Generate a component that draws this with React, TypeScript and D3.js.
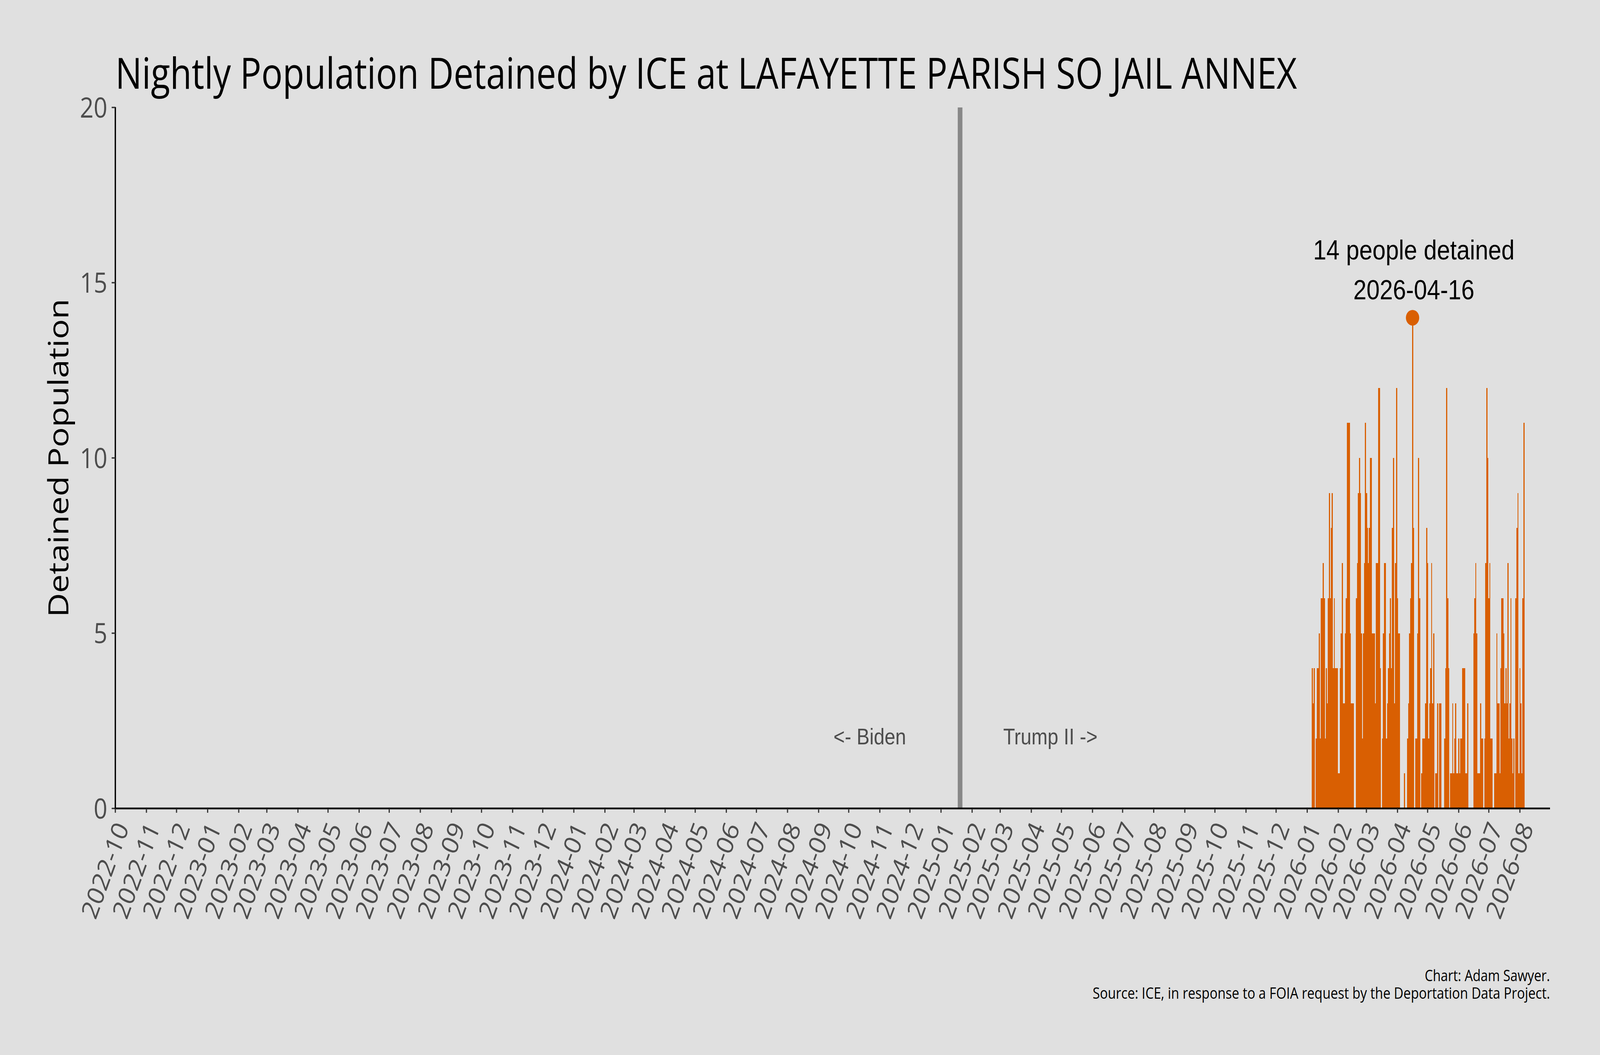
import React from "react";
import * as d3 from "d3";

// nightly counts, one value per day starting 2026-01-06
const startDate = "2026-01-06";
const detained = [
  4, 3, 4, 0, 2, 4, 4, 5, 2, 6,
  6, 7, 6, 2, 4, 3, 6, 9, 6, 8,
  9, 4, 6, 4, 4, 4, 1, 1, 4, 5,
  7, 3, 3, 5, 6, 11, 11, 11, 5, 3,
  3, 3, 0, 0, 6, 7, 9, 10, 9, 5,
  2, 5, 7, 11, 9, 8, 7, 8, 10, 10,
  5, 5, 5, 3, 7, 7, 12, 12, 4, 0,
  2, 5, 7, 7, 2, 3, 4, 5, 6, 4,
  8, 10, 3, 7, 12, 6, 5, 5, 0, 0,
  0, 0, 1, 0, 0, 2, 3, 5, 6, 7,
  14, 8, 0, 2, 2, 5, 10, 6, 0, 1,
  2, 2, 2, 3, 8, 7, 2, 3, 4, 7,
  3, 5, 0, 1, 1, 3, 0, 3, 3, 0,
  0, 0, 2, 4, 12, 6, 4, 0, 1, 1,
  3, 1, 2, 3, 1, 1, 2, 1, 2, 2,
  4, 4, 4, 1, 1, 3, 0, 0, 0, 0,
  0, 5, 6, 7, 5, 1, 1, 1, 3, 2,
  2, 0, 2, 7, 12, 10, 6, 7, 2, 2,
  0, 0, 1, 1, 5, 3, 3, 1, 4, 6,
  6, 5, 3, 4, 3, 7, 2, 3, 6, 2,
  1, 2, 0, 6, 8, 9, 1, 4, 3, 1,
  6, 11,
];

const xDomain = ["2022-10-01", "2026-08-31"];
const lastTick = "2026-08-01";
const yTicks = [0, 5, 10, 15, 20];
const inauguration = "2025-01-20";
const eraLabels = ["<- Biden", "Trump II ->"];
const peakDate = "2026-04-16";
const peakValue = 14;
const footer = [
  "Chart: Adam Sawyer.",
  "Source: ICE, in response to a FOIA request by the Deportation Data Project.",
];

const W = 4800;
const H = 2700;
const orange = "#d95f02";
const sans = "'Open Sans', 'Noto Sans', sans-serif";
const arial = "'Liberation Sans', Arial, sans-serif";

const parse = (s: string) => new Date(s + "T00:00:00Z");

export default function App() {
  const x = d3.scaleUtc().domain(xDomain.map(parse)).range([346, 4650]);
  const y = d3.scaleLinear().domain([0, 20]).range([2069, 275]);
  const start = parse(startDate);
  const dayW = x(d3.utcDay.offset(start, 1)) - x(start);
  const months = d3.utcMonth.range(parse(xDomain[0]), d3.utcDay.offset(parse(lastTick), 1));
  const fmt = d3.utcFormat("%Y-%m");
  const xi = x(parse(inauguration));
  const px = x(parse(peakDate));
  const py = y(peakValue);

  // the window is not always 4800 wide, so the drawing is stretched to fill it
  return (
    <svg
      viewBox={`0 0 ${W} ${H}`}
      preserveAspectRatio="none"
      style={{ position: "absolute", left: 0, top: 0, width: "100vw", height: "100vh", display: "block" }}
    >
      <rect width={W} height={H} fill="#e0e0e0" />

      <text x={346} y={227} fontFamily={sans} fontSize={110} textLength={3545} lengthAdjust="spacingAndGlyphs">
        Nightly Population Detained by ICE at LAFAYETTE PARISH SO JAIL ANNEX
      </text>

      {/* bars */}
      <g shapeRendering="crispEdges">
        {detained.map((v, i) => {
          if (v === 0) return null;
          const cx = x(d3.utcDay.offset(start, i));
          return <rect key={i} x={cx - dayW / 2} width={dayW + 0.3} y={y(v)} height={y(0) - y(v)} fill={orange} />;
        })}
      </g>

      {/* inauguration line */}
      <line x1={xi} x2={xi} y1={y(20)} y2={y(0)} stroke="#888888" strokeWidth={14} />
      <text x={x(d3.utcDay.offset(parse(inauguration), -90))} y={y(1.83)} textAnchor="middle" fontFamily={arial} fontSize={58} fill="#4d4d4d">
        {eraLabels[0]}
      </text>
      <text x={x(d3.utcDay.offset(parse(inauguration), 90))} y={y(1.83)} textAnchor="middle" fontFamily={arial} fontSize={58} fill="#4d4d4d">
        {eraLabels[1]}
      </text>

      {/* peak annotation */}
      <circle cx={px} cy={py} r={20} fill={orange} />
      <text x={px + 4} y={py - 149} textAnchor="middle" fontFamily={arial} fontSize={71}>
        {peakValue} people detained
      </text>
      <text x={px + 4} y={py - 47} textAnchor="middle" fontFamily={arial} fontSize={71}>
        {peakDate}
      </text>

      {/* y axis */}
      <line x1={346} x2={346} y1={y(20) - 1} y2={y(0) + 2} stroke="#000" strokeWidth={4} />
      {yTicks.map((t) => (
        <g key={t}>
          <line x1={335} x2={346} y1={y(t)} y2={y(t)} stroke="#333" strokeWidth={3.5} />
          <text x={322} y={y(t)} dy="0.36em" textAnchor="end" fontFamily={sans} fontSize={72} fill="#4d4d4d">
            {t}
          </text>
        </g>
      ))}
      <text transform={`translate(205,${(y(0) + y(20)) / 2}) rotate(-90)`} textAnchor="middle" fontFamily={sans} fontSize={84} textLength={815} lengthAdjust="spacingAndGlyphs">
        Detained Population
      </text>

      {/* x axis */}
      <line x1={344} x2={4650} y1={y(0)} y2={y(0)} stroke="#000" strokeWidth={4.5} />
      {months.map((m) => {
        const tx = x(m);
        const ex = tx + 42;
        const ey = y(0) + 49;
        return (
          <g key={+m}>
            <line x1={tx} x2={tx} y1={y(0)} y2={y(0) + 11} stroke="#333" strokeWidth={3.5} />
            <text x={ex} y={ey} transform={`rotate(-67 ${ex} ${ey})`} textAnchor="end" fontFamily={sans} fontSize={69} fill="#4d4d4d">
              {fmt(m)}
            </text>
          </g>
        );
      })}

      {/* footer */}
      <text x={4650} y={2511} textAnchor="end" fontFamily={sans} fontSize={40} textLength={376} lengthAdjust="spacingAndGlyphs">
        {footer[0]}
      </text>
      <text x={4650} y={2556} textAnchor="end" fontFamily={sans} fontSize={40} textLength={1372} lengthAdjust="spacingAndGlyphs">
        {footer[1]}
      </text>
    </svg>
  );
}
